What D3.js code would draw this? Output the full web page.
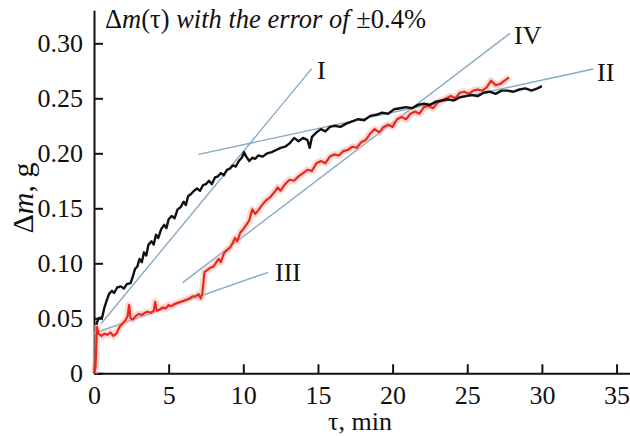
<!DOCTYPE html>
<html>
<head>
<meta charset="utf-8">
<title>Mass gain vs time</title>
<script src="https://d3js.org/d3.v7.min.js"></script>
<style>
  body { margin: 0; background: #fff; }
  svg, svg text { font-family: 'Liberation Serif', 'Times New Roman', Tinos, serif !important; }
</style>
</head>
<body>
<div id="viz"></div>
<script>
// black curve: tau (min), dm (g)
const blackData = [
  [0.15,0.044],[0.3,0.05],[0.55,0.051],[0.7,0.06],[0.85,0.066],[1.0,0.072],[1.2,0.075],[1.35,0.073],
  [1.55,0.078],[1.8,0.079],[2.0,0.077],[2.2,0.081],[2.45,0.082],[2.6,0.088],[2.75,0.095],[2.9,0.097],
  [3.05,0.104],[3.2,0.101],[3.35,0.11],[3.5,0.107],[3.65,0.117],[3.85,0.12],[4.0,0.117],[4.15,0.126],
  [4.3,0.123],[4.5,0.131],[4.7,0.135],[4.85,0.132],[5.0,0.14],[5.2,0.143],[5.4,0.141],[5.6,0.149],
  [5.8,0.151],[6.0,0.156],[6.15,0.153],[6.3,0.161],[6.5,0.163],[6.7,0.166],[6.9,0.168],[7.1,0.166],
  [7.3,0.171],[7.5,0.172],[7.7,0.175],[7.9,0.172],[8.1,0.178],[8.3,0.179],[8.5,0.182],[8.7,0.18],
  [8.9,0.185],[9.1,0.186],[9.3,0.189],[9.5,0.188],[9.7,0.193],[9.9,0.196],[10.05,0.201],[10.2,0.197],
  [10.4,0.193],[10.6,0.196],[10.8,0.195],[11.0,0.198],[11.3,0.197],[11.6,0.2],[11.9,0.201],[12.2,0.203],
  [12.5,0.205],[12.8,0.206],[13.1,0.209],[13.4,0.214],[13.7,0.211],[14.0,0.214],[14.3,0.212],[14.45,0.205],
  [14.6,0.215],[14.9,0.219],[15.2,0.222],[15.5,0.22],[15.8,0.224],[16.1,0.225],[16.5,0.224],[16.9,0.227],
  [17.3,0.229],[17.7,0.231],[18.1,0.23],[18.5,0.234],[18.9,0.235],[19.3,0.237],[19.7,0.236],[20.1,0.24],
  [20.5,0.241],[20.9,0.242],[21.3,0.241],[21.7,0.244],[22.1,0.245],[22.5,0.244],[22.9,0.247],[23.3,0.248],
  [23.7,0.249],[24.1,0.248],[24.5,0.251],[24.9,0.252],[25.3,0.253],[25.7,0.252],[26.1,0.255],[26.5,0.256],
  [26.9,0.254],[27.3,0.257],[27.7,0.257],[28.1,0.256],[28.5,0.258],[28.9,0.259],[29.3,0.257],[29.7,0.259],
  [30.0,0.261]
];

// red curve
const redData = [
  [0.0,0.0],[0.1,0.005],[0.2,0.042],[0.3,0.036],[0.5,0.034],[0.7,0.036],[0.9,0.035],[1.1,0.037],
  [1.3,0.034],[1.5,0.036],[1.7,0.042],[1.9,0.045],[2.1,0.048],[2.25,0.052],[2.35,0.062],[2.45,0.05],
  [2.6,0.049],[2.8,0.052],[3.0,0.054],[3.2,0.053],[3.4,0.055],[3.6,0.056],[3.8,0.055],[4.0,0.057],
  [4.1,0.065],[4.2,0.057],[4.4,0.058],[4.6,0.06],[4.8,0.059],[5.0,0.062],[5.2,0.061],[5.4,0.063],
  [5.6,0.064],[5.8,0.065],[6.0,0.066],[6.2,0.067],[6.4,0.068],[6.6,0.07],[6.8,0.07],[7.0,0.072],
  [7.15,0.068],[7.25,0.072],[7.4,0.092],[7.6,0.094],[7.8,0.096],[8.0,0.097],[8.2,0.101],[8.35,0.104],
  [8.5,0.101],[8.7,0.109],[8.9,0.112],[9.1,0.114],[9.3,0.119],[9.45,0.123],[9.6,0.12],[9.8,0.128],
  [10.0,0.131],[10.2,0.135],[10.4,0.139],[10.6,0.149],[10.8,0.145],[11.0,0.148],[11.2,0.152],[11.5,0.157],
  [11.8,0.16],[12.1,0.165],[12.3,0.169],[12.5,0.166],[12.8,0.172],[13.1,0.176],[13.4,0.175],[13.7,0.179],
  [14.0,0.182],[14.3,0.185],[14.6,0.184],[14.9,0.191],[15.2,0.193],[15.5,0.191],[15.8,0.197],[16.1,0.199],
  [16.4,0.198],[16.7,0.202],[17.0,0.203],[17.3,0.206],[17.6,0.205],[17.9,0.21],[18.2,0.212],[18.5,0.218],
  [18.8,0.222],[19.1,0.219],[19.4,0.224],[19.7,0.226],[20.0,0.224],[20.3,0.231],[20.6,0.233],[20.9,0.231],
  [21.2,0.236],[21.5,0.238],[21.8,0.236],[22.1,0.242],[22.4,0.243],[22.7,0.241],[23.0,0.246],[23.3,0.248],
  [23.6,0.25],[23.9,0.252],[24.2,0.25],[24.5,0.255],[24.8,0.256],[25.1,0.254],[25.4,0.257],[25.7,0.258],
  [26.0,0.257],[26.3,0.26],[26.6,0.266],[26.9,0.262],[27.2,0.263],[27.5,0.266],[27.8,0.269]
];

// tangent lines: label, start, end
const tangentNames = ["I", "II", "III", "IV"];
const tangentStart = [[0.47,0.045],[6.99,0.199],[0.0,0.0364],[5.94,0.0824]];
const tangentEnd = [[14.58,0.277],[33.44,0.2766],[11.67,0.0918],[27.86,0.309]];

const xTicks = [0, 5, 10, 15, 20, 25, 30, 35];
const yTicks = [0, 0.05, 0.10, 0.15, 0.20, 0.25, 0.30];

const W = 630, H = 436;
const svg = d3.select("#viz").append("svg").attr("width", W).attr("height", H);

const x = d3.scaleLinear().domain([0, 35.9]).range([94, 630]);
const y = d3.scaleLinear().domain([0, 0.33]).range([373.3, 10.3]);

// axes
const xAxis = svg.append("g")
  .attr("transform", `translate(0,${y(0)})`)
  .call(d3.axisBottom(x).tickValues(xTicks).tickSize(-9).tickSizeOuter(0).tickPadding(12)
    .tickFormat(d3.format("d")));
const yAxis = svg.append("g")
  .attr("transform", `translate(${x(0)},0)`)
  .call(d3.axisLeft(y).tickValues(yTicks).tickSize(-9).tickSizeOuter(0).tickPadding(11)
    .tickFormat(d => d === 0 ? "0" : d3.format(".2f")(d)));

[xAxis, yAxis].forEach(a => {
  a.attr("font-family", null);
  a.select(".domain").attr("stroke", "#111").attr("stroke-width", 2);
  a.selectAll(".tick line").attr("stroke", "#111").attr("stroke-width", 2);
  a.selectAll(".tick text").attr("fill", "#111").style("font-size", "26px");
});

// tangent lines
const tg = svg.append("g");
tangentNames.forEach((n, i) => {
  tg.append("line")
    .attr("x1", x(tangentStart[i][0])).attr("y1", y(tangentStart[i][1]))
    .attr("x2", x(tangentEnd[i][0])).attr("y2", y(tangentEnd[i][1]))
    .attr("stroke", "#86abc3").attr("stroke-width", 1.4);
});

const line = d3.line().x(d => x(d[0])).y(d => y(d[1]));

// red curve with soft halo
svg.append("path").datum(redData).attr("d", line)
  .attr("fill", "none").attr("stroke", "#f6b3ab").attr("stroke-width", 7).attr("opacity", 0.5)
  .attr("stroke-linejoin", "round");
svg.append("path").datum(redData).attr("d", line)
  .attr("fill", "none").attr("stroke", "#e8291f").attr("stroke-width", 2.2)
  .attr("stroke-linejoin", "round");

svg.append("path").datum(blackData).attr("d", line)
  .attr("fill", "none").attr("stroke", "#111").attr("stroke-width", 2.4)
  .attr("stroke-linejoin", "round");

// tangent labels
const labelPos = [[317, 79], [597, 81], [275, 281], [514, 44]];
tangentNames.forEach((n, i) => {
  svg.append("text").attr("x", labelPos[i][0]).attr("y", labelPos[i][1])
    .attr("fill", "#111").style("font-size", "26px").text(n);
});

// title
const title = svg.append("text").attr("x", 105).attr("y", 28).attr("fill", "#111").style("font-size", "26.5px");
title.append("tspan").text("Δ");
title.append("tspan").style("font-style", "italic").text("m");
title.append("tspan").text("(τ) ");
title.append("tspan").style("font-style", "italic").text("with the error of ");
title.append("tspan").text("±0.4%");

// axis labels
const yl = svg.append("text").attr("transform", "translate(33,198) rotate(-90)")
  .attr("text-anchor", "middle").attr("fill", "#111").style("font-size", "30px");
yl.append("tspan").text("Δ");
yl.append("tspan").style("font-style", "italic").text("m");
yl.append("tspan").text(", g");

svg.append("text").attr("x", 360).attr("y", 430).attr("text-anchor", "middle")
  .attr("fill", "#111").style("font-size", "26px").text("τ, min");
</script>
</body>
</html>
